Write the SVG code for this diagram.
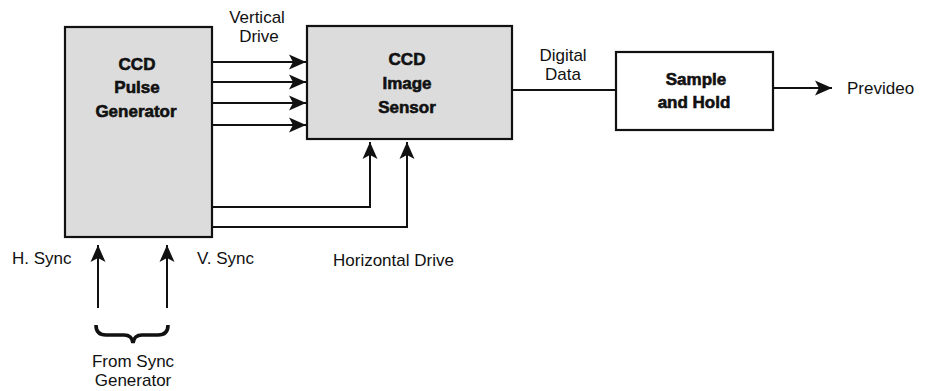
<svg xmlns="http://www.w3.org/2000/svg" width="929" height="391" viewBox="0 0 929 391">
<defs>
<style>
.box{stroke:#111;stroke-width:2.2;}
.shade{fill:#dcdcdc;}
.plain{fill:#fff;}
.wire{fill:none;stroke:#111;stroke-width:2;}
.lbl{font-family:"Liberation Sans",Arial,sans-serif;font-size:17px;fill:#111;}
.bold{font-family:"Liberation Sans",Arial,sans-serif;font-size:17px;font-weight:bold;fill:#111;stroke:#111;stroke-width:0.6;}
</style>
<marker id="ah" markerUnits="userSpaceOnUse" markerWidth="18" markerHeight="16" viewBox="0 0 18 16" refX="17" refY="8" orient="auto">
<path d="M0,0.5 L17,8 L0,15.5 L4,8 Z" fill="#111"/>
</marker>
</defs>

<g id="pulse-generator">
<rect class="box shade" x="65" y="27" width="147" height="210"/>
<text class="bold" text-anchor="middle" x="137" y="70">CCD</text>
<text class="bold" text-anchor="middle" x="137" y="93">Pulse</text>
<text class="bold" text-anchor="middle" x="136" y="117">Generator</text>
</g>

<g id="image-sensor">
<rect class="box shade" x="307" y="26" width="205" height="113"/>
<text class="bold" text-anchor="middle" x="407" y="65">CCD</text>
<text class="bold" text-anchor="middle" x="407" y="89">Image</text>
<text class="bold" text-anchor="middle" x="407" y="113">Sensor</text>
</g>

<g id="sample-hold">
<rect class="box plain" x="616" y="52" width="157" height="78"/>
<text class="bold" text-anchor="middle" x="696" y="85">Sample</text>
<text class="bold" text-anchor="middle" x="694" y="108">and Hold</text>
</g>

<g id="connectors">
<line class="wire" x1="212" y1="62" x2="306" y2="62" marker-end="url(#ah)"/>
<line class="wire" x1="212" y1="82" x2="306" y2="82" marker-end="url(#ah)"/>
<line class="wire" x1="212" y1="103" x2="306" y2="103" marker-end="url(#ah)"/>
<line class="wire" x1="212" y1="125" x2="306" y2="125" marker-end="url(#ah)"/>
<polyline class="wire" points="212,207 370,207 370,142" marker-end="url(#ah)"/>
<polyline class="wire" points="212,227 407,227 407,142" marker-end="url(#ah)"/>
<line class="wire" x1="512" y1="90" x2="616" y2="90"/>
<line class="wire" x1="773" y1="88" x2="832" y2="88" marker-end="url(#ah)"/>
<line class="wire" x1="98" y1="308" x2="98" y2="245" marker-end="url(#ah)"/>
<line class="wire" x1="167" y1="308" x2="167" y2="245" marker-end="url(#ah)"/>
<path d="M96,325 Q96,335 106,335 L124,335 Q132,335 133,343 Q134,335 142,335 L158,335 Q168,335 168,325" fill="none" stroke="#111" stroke-width="3.6"/>
</g>

<g id="labels">
<text class="lbl" text-anchor="middle" x="257" y="23">Vertical</text>
<text class="lbl" text-anchor="middle" x="259" y="42">Drive</text>
<text class="lbl" text-anchor="middle" x="563" y="61">Digital</text>
<text class="lbl" text-anchor="middle" x="563" y="80">Data</text>
<text class="lbl" x="847" y="94">Prevideo</text>
<text class="lbl" x="12" y="264">H. Sync</text>
<text class="lbl" x="197" y="264">V. Sync</text>
<text class="lbl" x="333" y="266">Horizontal Drive</text>
<text class="lbl" text-anchor="middle" x="133" y="367">From Sync</text>
<text class="lbl" text-anchor="middle" x="133" y="386">Generator</text>
</g>
</svg>
